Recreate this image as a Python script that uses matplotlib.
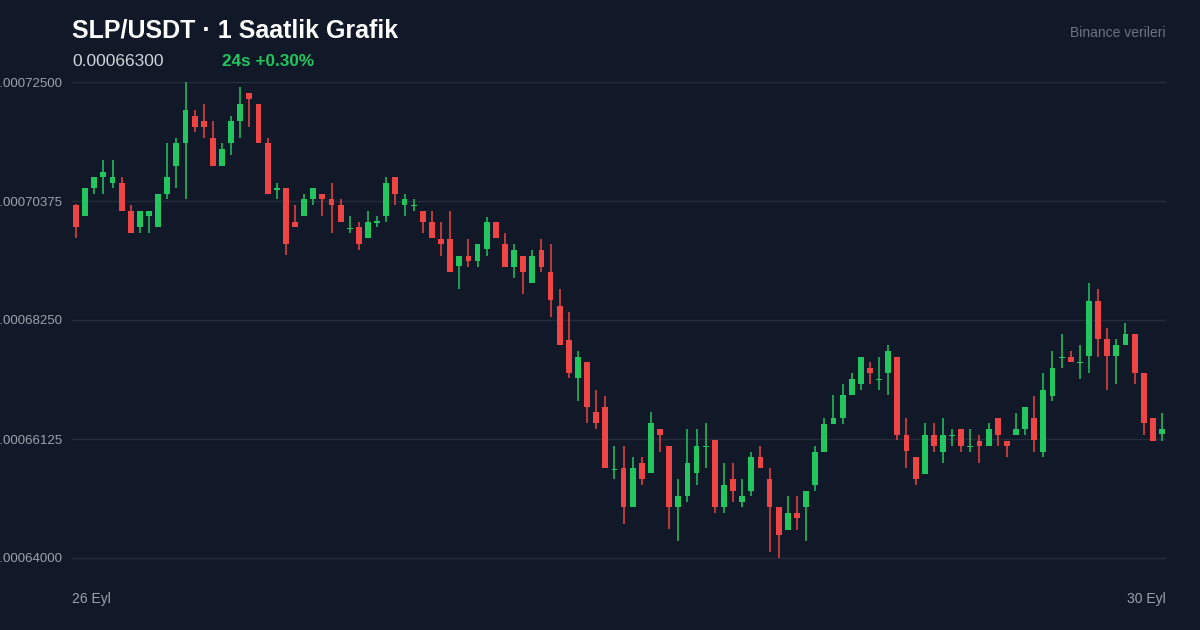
import numpy as np
import matplotlib
matplotlib.use("Agg")
import matplotlib.pyplot as plt

# SLP/USDT 1h candles, prices in units of 1e-8 USDT
opens = [70300, 70110, 70610, 70800, 70700, 70700, 70200, 69910, 70110, 69910,
         70500, 71000, 71410, 71890, 71800, 71500, 71000, 71410, 71800, 72300,
         72110, 71410, 70570, 70610, 70000, 70110, 70410, 70500, 70410, 70300,
         69880, 69910, 69710, 69990, 70110, 70800, 70300, 70290, 70200, 70000,
         69700, 69700, 69210, 69390, 69300, 69520, 70000, 69610, 69200, 69390,
         68910, 69500, 69110, 68500, 67890, 67210, 67500, 66610, 66700, 65570,
         65610, 64910, 65700, 65520, 66300, 66000, 64910, 65110, 65520, 65980,
         66110, 64910, 65410, 65000, 65200, 65800, 65410, 64910, 64500, 64800,
         64910, 65300, 65890, 66390, 66500, 66910, 67110, 67390, 67180, 67300,
         67590, 66200, 65800, 65500, 66200, 65890, 66180, 66300, 65980, 66090,
         66000, 66500, 66090, 66200, 66300, 66500, 65890, 66890, 67570, 67590,
         67480, 67610, 68590, 67910, 67610, 67800, 68000, 67300, 66500, 66210]
highs = [70320, 70610, 70800, 71110, 71110, 70800, 70300, 70200, 70200, 70500,
         71410, 71500, 72500, 72000, 72110, 71800, 71410, 71890, 72410, 72300,
         72110, 71500, 70700, 70610, 70300, 70500, 70610, 70500, 70700, 70410,
         70110, 70000, 70200, 70110, 70800, 70800, 70500, 70410, 70200, 70200,
         70000, 70200, 69390, 69700, 69610, 70090, 70000, 69800, 69610, 69390,
         69500, 69700, 69610, 68800, 68390, 67700, 67500, 67000, 66890, 66000,
         66000, 65800, 65800, 66610, 66300, 66000, 65410, 66300, 66300, 66410,
         66110, 65700, 65700, 65410, 65890, 66000, 65610, 64910, 65110, 65110,
         65200, 66000, 66500, 66910, 67110, 67300, 67590, 67500, 67590, 67800,
         67590, 66500, 65800, 66410, 66410, 66500, 66300, 66300, 66300, 66200,
         66410, 66500, 66090, 66590, 66700, 66890, 67300, 67700, 68000, 67700,
         67800, 68910, 68800, 68110, 67910, 68200, 68000, 67300, 66500, 66590]
lows = [69710, 70110, 70500, 70500, 70610, 70200, 69800, 69800, 69800, 69910,
        70410, 70610, 70410, 71610, 71500, 71000, 71000, 71200, 71500, 71700,
        71410, 70500, 70410, 69410, 69910, 70110, 70300, 70110, 69800, 70000,
        69800, 69500, 69710, 69910, 70000, 70300, 70110, 70200, 69800, 69710,
        69390, 69110, 68800, 69200, 69200, 69390, 69710, 69200, 69000, 68710,
        68910, 69110, 68300, 67800, 67210, 66800, 66410, 66300, 65610, 65410,
        64610, 64910, 65300, 65520, 65890, 64520, 64300, 65000, 65300, 65610,
        64800, 64800, 65000, 64910, 65110, 65610, 64110, 64000, 64500, 64500,
        64300, 65200, 65890, 66390, 66390, 66910, 67000, 67110, 67000, 66910,
        66110, 65610, 65300, 65500, 65890, 65700, 66000, 65890, 65890, 65700,
        66000, 66000, 65800, 66200, 66200, 65890, 65800, 66800, 67390, 67500,
        67200, 67300, 67590, 67000, 67110, 67800, 67110, 66200, 66090, 66090]
closes = [69910, 70610, 70800, 70890, 70800, 70200, 69800, 70200, 70200, 70500,
          70800, 71410, 72000, 71700, 71700, 71000, 71300, 71800, 72110, 72200,
          71410, 70500, 70610, 69610, 69910, 70410, 70610, 70410, 70300, 70000,
          69900, 69610, 70000, 70000, 70700, 70500, 70410, 70300, 70000, 69710,
          69610, 69110, 69390, 69300, 69610, 70000, 69710, 69200, 69500, 69110,
          69390, 69200, 68610, 67800, 67300, 67590, 66700, 66410, 65610, 65590,
          64910, 65610, 65410, 66410, 66200, 64910, 65110, 65700, 66000, 66000,
          64910, 65300, 65200, 65110, 65800, 65610, 64910, 64410, 64800, 64710,
          65200, 65890, 66390, 66500, 66910, 67200, 67590, 67300, 67200, 67700,
          66200, 65910, 65410, 66200, 66000, 66200, 66200, 66000, 66000, 66000,
          66300, 66200, 66000, 66300, 66700, 66110, 67000, 67390, 67590, 67500,
          67500, 68590, 67910, 67610, 67800, 68000, 67300, 66410, 66090, 66300]

ytick_vals = [64000, 66125, 68250, 70375, 72500]
x_labels = ["26 Eyl", "30 Eyl"]
last_price = "0.00066300"
change_24h = "24s +0.30%"

BG = "#111827"
GRID = "#232d3c"
UP = "#22c55e"
DOWN = "#ef4444"

plt.rcParams['font.family'] = ['Liberation Sans', 'DejaVu Sans']

o = np.array(opens) * 1e-8
h = np.array(highs) * 1e-8
l = np.array(lows) * 1e-8
c = np.array(closes) * 1e-8
x = np.arange(len(o))

fig = plt.figure(figsize=(12, 6.3), dpi=100, facecolor=BG)
# axes spans px 72..1166 horizontally, 76..564 vertically
ax = fig.add_axes([72 / 1200, 1 - 564 / 630, (1166 - 72) / 1200, (564 - 76) / 630])
ax.set_facecolor(BG)

yt = np.array(ytick_vals) * 1e-8
pad = (yt[-1] - yt[0]) / 476 * 6
ax.set_ylim(yt[0] - pad, yt[-1] + pad)
ax.set_xlim(-0.44, len(o) - 1 + 0.44)

for v in yt:
    ax.axhline(v, color=GRID, lw=1, zorder=0)

colors = np.where(c >= o, UP, DOWN)
ax.vlines(x, l, h, colors=colors, lw=1.1, zorder=2)
body_lo = np.minimum(o, c)
body_h = np.maximum(np.abs(c - o), (yt[-1] - yt[0]) / 476 * 1.2)
ax.bar(x, body_h, bottom=body_lo, width=0.64, color=colors, zorder=3, linewidth=0)

# labels sit left of the plot and run off the left edge, as in the original
ax.set_yticks(yt)
ax.set_yticklabels(["%.8f" % v for v in yt])
ax.tick_params(axis='y', length=0, pad=7, labelsize=9.5, labelcolor="#9ca3af")
ax.set_xticks([])
for s in ax.spines.values():
    s.set_visible(False)

fig.text(72 / 1200, 1 - 599 / 630, x_labels[0], color="#9ca3af", fontsize=10,
         ha='left', va='center')
fig.text(1166 / 1200, 1 - 599 / 630, x_labels[1], color="#9ca3af", fontsize=10,
         ha='right', va='center')

fig.text(72 / 1200, 1 - 30 / 630, "SLP/USDT · 1 Saatlik Grafik", color="white",
         fontsize=18, fontweight='bold', ha='left', va='center')
fig.text(72 / 1200, 1 - 61 / 630, last_price, color="#d1d5db", fontsize=12.5,
         ha='left', va='center')
fig.text(222 / 1200, 1 - 61 / 630, change_24h, color=UP, fontsize=12.3,
         fontweight='bold', ha='left', va='center')
fig.text(1166 / 1200, 1 - 33 / 630, "Binance verileri", color="#6b7280",
         fontsize=10, ha='right', va='center')

fig.savefig("out.png", dpi=100, facecolor=BG)
